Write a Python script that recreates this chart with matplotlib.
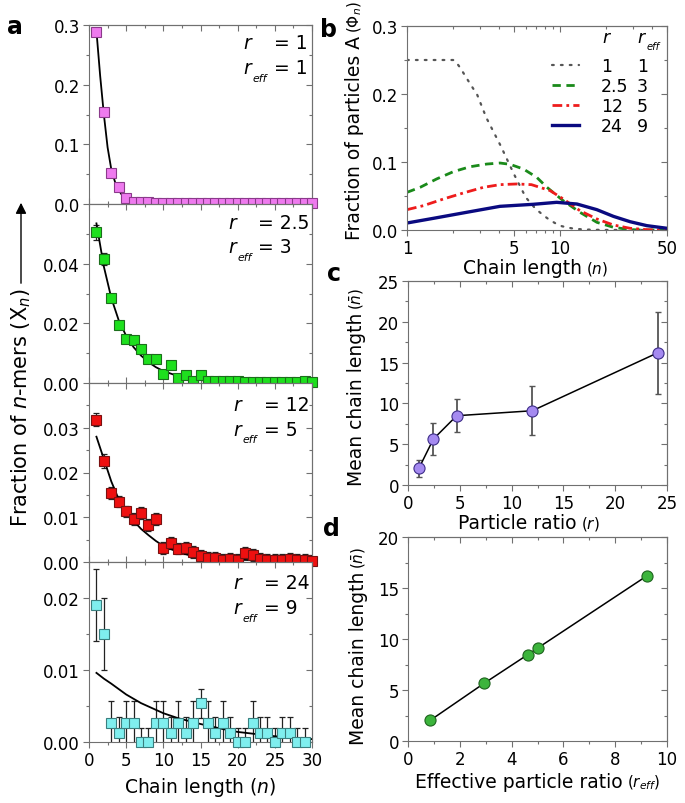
import matplotlib
matplotlib.use('Agg')
import matplotlib.pyplot as plt
from matplotlib.ticker import FixedLocator, FixedFormatter, NullFormatter
from matplotlib.patches import FancyArrowPatch

plt.rcParams['font.family'] = ['DejaVu Sans']
plt.rcParams['mathtext.fontset'] = 'dejavusans'

# ---------------- data: panel a ----------------
n_a = list(range(1, 31))
x_r1 = [0.289, 0.155, 0.052, 0.028, 0.0106, 0.004, 0.0028, 0.004] + [0.001] * 22
e_r1 = [0.002] * 30
fit_r1_n = [1, 1.5, 2, 2.5, 3, 3.5, 4, 4.5, 5, 6, 7, 8, 10, 30]
fit_r1_v = [0.29, 0.215, 0.15, 0.095, 0.058, 0.037, 0.023, 0.014, 0.008, 0.003, 0.001, 0.0004, 0.0001, 0.0]

x_r25 = [0.0506, 0.0417, 0.0285, 0.0196, 0.0146, 0.0143, 0.0115, 0.0082, 0.0079, 0.0031,
         0.0059, 0.0017, 0.0026, 0.0006, 0.0026, 0.0006, 0.0006, 0.0008, 0.0008, 0.0008,
         0.0005, 0.0005, 0.0005, 0.0005, 0.0005, 0.0005, 0.0005, 0.0005, 0.0008, 0.0005]
e_r25 = [0.0025, 0.002, 0.0015, 0.0013, 0.0012, 0.0012, 0.0012, 0.0012, 0.0012, 0.001,
         0.001, 0.001, 0.001, 0.0009, 0.001, 0.0009, 0.0009, 0.0009, 0.0009, 0.0009,
         0.0009, 0.0009, 0.0009, 0.0009, 0.0009, 0.0009, 0.0009, 0.0009, 0.0009, 0.0009]
fit_r25_n = [1, 2, 3, 4, 5, 6, 7, 8, 9, 10, 12, 14, 16, 20, 25, 30]
fit_r25_v = [0.0535, 0.039, 0.0285, 0.021, 0.0158, 0.012, 0.0092, 0.007, 0.0053, 0.004,
             0.0023, 0.0013, 0.0007, 0.0002, 0.0001, 0.0]

x_r12 = [0.0318, 0.0226, 0.0154, 0.0135, 0.0113, 0.0096, 0.011, 0.0083, 0.0096, 0.0031,
         0.0042, 0.003, 0.0031, 0.0022, 0.0014, 0.001, 0.001, 0.0004, 0.0007, 0.0004,
         0.0021, 0.0015, 0.0007, 0.0004, 0.0004, 0.0004, 0.0007, 0.0005, 0.0004, 0.0003]
e_r12 = [0.0015] * 2 + [0.0013] * 28
fit_r12_n = [1, 2, 3, 4, 5, 6, 7, 8, 9, 10, 12, 14, 16, 20, 25, 30]
fit_r12_v = [0.028, 0.023, 0.018, 0.014, 0.0112, 0.0092, 0.0074, 0.006, 0.0047, 0.0036,
             0.0022, 0.0013, 0.0009, 0.0005, 0.0003, 0.0002]

n_r24 = list(range(1, 30))
x_r24 = [0.019, 0.015, 0.0027, 0.0013, 0.0027, 0.0027, 0.0, 0.0, 0.0027, 0.0027,
         0.0013, 0.0027, 0.0013, 0.0027, 0.0054, 0.0027, 0.0013, 0.0027, 0.0013, 0.0,
         0.0, 0.0027, 0.0013, 0.0013, 0.0, 0.0013, 0.0013, 0.0, 0.0]
e_r24 = [0.005, 0.005, 0.003, 0.0022, 0.003, 0.003, 0.002, 0.002, 0.003, 0.003,
         0.0022, 0.003, 0.0022, 0.003, 0.002, 0.003, 0.0022, 0.003, 0.0022, 0.002,
         0.002, 0.003, 0.0022, 0.0022, 0.002, 0.0022, 0.0022, 0.002, 0.002]
fit_r24_n = [1, 2, 3, 5, 7, 10, 12, 15, 18, 20, 25, 30]
fit_r24_v = [0.0096, 0.0088, 0.0081, 0.0066, 0.0054, 0.004, 0.0033, 0.0025, 0.0018, 0.0014, 0.0008, 0.0004]

# ---------------- data: panel b ----------------
b_r1_n = [1, 2, 2.06, 2.22, 2.52, 2.88, 3.3, 4.09, 5.03, 5.97, 6.87, 7.6, 8.4, 9.3, 10.3, 11.9, 13.5, 16, 20, 50]
b_r1_v = [0.25, 0.25, 0.249, 0.239, 0.219, 0.1985, 0.165, 0.124, 0.081, 0.048, 0.032, 0.0235, 0.016, 0.010, 0.0055, 0.0025, 0.0012, 0.0004, 0.0001, 0.0]
b_r25_n = [1, 1.22, 1.56, 2.01, 2.58, 3.32, 4.05, 4.71, 5.76, 7.04, 8.19, 10.5, 13.5, 17.4, 22.3, 28.7, 35, 50]
b_r25_v = [0.0554, 0.0628, 0.075, 0.0858, 0.093, 0.097, 0.0985, 0.0966, 0.0897, 0.0775, 0.063, 0.043, 0.026, 0.0113, 0.004, 0.0005, 0.0, 0.0]
b_r12_n = [1, 1.28, 1.73, 2.33, 3.15, 4.05, 5.21, 6.5, 8.6, 10.5, 13.5, 17.4, 22.3, 28.7, 36.9, 42, 50]
b_r12_v = [0.0299, 0.0358, 0.0456, 0.0544, 0.0627, 0.0667, 0.0677, 0.0667, 0.058, 0.0456, 0.0284, 0.0162, 0.0074, 0.0025, 0.0005, 0.0, 0.0]
b_r24_n = [1, 1.49, 2.45, 4.05, 6.7, 9.5, 12.9, 17.4, 22.3, 28.7, 36.9, 50]
b_r24_v = [0.0103, 0.0172, 0.026, 0.0348, 0.0378, 0.0407, 0.0382, 0.0299, 0.0201, 0.0122, 0.0064, 0.0025]
legend_r = ['1', '2.5', '12', '24']
legend_reff = ['1', '3', '5', '9']

# ---------------- data: panel c / d ----------------
c_r = [1.05, 2.45, 4.7, 12.0, 24.1]
c_mean = [2.04, 5.63, 8.49, 9.1, 16.2]
c_err = [1.0, 2.0, 2.0, 3.0, 5.0]
d_reff = [0.86, 2.93, 4.62, 5.03, 9.23]
d_mean = [2.03, 5.64, 8.46, 9.15, 16.2]

# ---------------- figure ----------------
W, H = 685, 804
fig = plt.figure(figsize=(W / 100, H / 100), dpi=100)

def px_axes(left, top, right, bottom):
    return fig.add_axes([left / W, 1 - bottom / H, (right - left) / W, (bottom - top) / H])

SP = '#707070'
TICK = 12
LAB = 13.5
PAREN = 11

def style(ax, xmaj, xmin, ymaj, ymin, bottom_dir='out'):
    for s in ax.spines.values():
        s.set_color(SP)
    ax.tick_params(which='both', color=SP, labelcolor='black', labelsize=TICK, pad=2)
    ax.tick_params(axis='y', which='both', direction='out')
    ax.tick_params(axis='x', which='both', direction=bottom_dir)
    ax.tick_params(which='major', length=4.5, width=0.8)
    ax.tick_params(which='minor', length=2.5, width=0.8)
    sx = ax.secondary_xaxis('top')
    sy = ax.secondary_yaxis('right')
    sx.xaxis.set_major_locator(FixedLocator(xmaj))
    sx.xaxis.set_minor_locator(FixedLocator(xmin))
    sy.yaxis.set_major_locator(FixedLocator(ymaj))
    sy.yaxis.set_minor_locator(FixedLocator(ymin))
    for s2 in (sx, sy):
        for sp in s2.spines.values():
            sp.set_color(SP)
        s2.tick_params(which='both', direction='in', color=SP, labeltop=False, labelright=False)
        s2.tick_params(which='major', length=4.5, width=0.8)
        s2.tick_params(which='minor', length=2.5, width=0.8)
    sx.xaxis.set_minor_formatter(NullFormatter())
    sy.yaxis.set_minor_formatter(NullFormatter())

def reff_text(ax, x, y, size, va='baseline'):
    t = ax.text(x, y, '$r$', transform=ax.transAxes, fontsize=size, va=va, ha='left')
    ax.annotate('eff', xy=(1, 0), xycoords=t, xytext=(-0.5, -size * 0.28),
                textcoords='offset points', fontsize=size * 0.58, style='italic',
                ha='left', va='bottom')
    return t

def xlabel_parts(ax, x0, y, main, paren):
    t = ax.text(x0, y, main, transform=ax.transAxes, fontsize=LAB, ha='left', va='center')
    ax.annotate(paren, xy=(1, 0.5), xycoords=t, xytext=(3, 0), textcoords='offset points',
                fontsize=PAREN, ha='left', va='center')

def ylabel_parts(ax, x, y0, main, paren):
    t = ax.text(x, y0, main, transform=ax.transAxes, fontsize=LAB, ha='center', va='bottom',
                rotation=90)
    ax.annotate(paren, xy=(0.5, 1), xycoords=t, xytext=(0, 2), textcoords='offset points',
                fontsize=PAREN, ha='center', va='bottom', rotation=90)

# ---------------- panel a ----------------
a_tops = [26, 205, 384, 563]
a_bots = [205, 384, 563, 743]
a_specs = [
    dict(n=n_a, v=x_r1, e=e_r1, fn=fit_r1_n, fv=fit_r1_v, ylim=0.3, ymaj=[0, 0.1, 0.2, 0.3],
         ylab=['0.0', '0.1', '0.2', '0.3'], ymin=[0.05, 0.15, 0.25], fc='#EE7AEE', ec='#8B3A8B',
         rv='1', reffv='1', xr=0.69, xeq=0.83, yr=0.87, yreff=0.73),
    dict(n=n_a, v=x_r25, e=e_r25, fn=fit_r25_n, fv=fit_r25_v, ylim=0.06, ymaj=[0, 0.02, 0.04],
         ylab=['0.00', '0.02', '0.04'], ymin=[0.01, 0.03, 0.05], fc='#1EE01E', ec='#1C6E1C',
         rv='2.5', reffv='3', xr=0.622, xeq=0.758, yr=0.865, yreff=0.73),
    dict(n=n_a, v=x_r12, e=e_r12, fn=fit_r12_n, fv=fit_r12_v, ylim=0.04, ymaj=[0, 0.01, 0.02, 0.03],
         ylab=['0.00', '0.01', '0.02', '0.03'], ymin=[0.005, 0.015, 0.025, 0.035], fc='#EE1010', ec='#7A1010',
         rv='12', reffv='5', xr=0.645, xeq=0.783, yr=0.85, yreff=0.71),
    dict(n=n_r24, v=x_r24, e=e_r24, fn=fit_r24_n, fv=fit_r24_v, ylim=0.025, ymaj=[0, 0.01, 0.02],
         ylab=['0.00', '0.01', '0.02'], ymin=[0.005, 0.015], fc='#7FEFEF', ec='#3A7F7F',
         rv='24', reffv='9', xr=0.645, xeq=0.783, yr=0.855, yreff=0.715),
]
xmaj_a = [0, 5, 10, 15, 20, 25, 30]
xmin_a = [2.5, 7.5, 12.5, 17.5, 22.5, 27.5]
for i, sp in enumerate(a_specs):
    ax = px_axes(89, a_tops[i], 312, a_bots[i])
    ax.set_xlim(0, 30)
    ax.set_ylim(0, sp['ylim'])
    ax.xaxis.set_major_locator(FixedLocator(xmaj_a))
    ax.xaxis.set_minor_locator(FixedLocator(xmin_a))
    ax.yaxis.set_major_locator(FixedLocator(sp['ymaj']))
    ax.yaxis.set_major_formatter(FixedFormatter(sp['ylab']))
    ax.yaxis.set_minor_locator(FixedLocator(sp['ymin']))
    style(ax, xmaj_a, xmin_a, sp['ymaj'], sp['ymin'], bottom_dir='out' if i == 3 else 'in')
    if i < 3:
        ax.tick_params(axis='x', labelbottom=False)
    else:
        ax.set_xlabel('Chain length ($n$)', fontsize=LAB, va='center')
        ax.xaxis.set_label_coords(0.5, -0.245)
    ax.errorbar(sp['n'], sp['v'], yerr=sp['e'], fmt='none', ecolor='#222222',
                elinewidth=0.9, capsize=2.2, capthick=0.9, zorder=2)
    ax.plot(sp['fn'], sp['fv'], color='black', lw=1.3, zorder=3)
    ax.plot(sp['n'], sp['v'], 's', ms=6.5, mfc=sp['fc'], mec=sp['ec'], mew=0.8,
            zorder=4, clip_on=False)
    ax.text(sp['xr'], sp['yr'], '$r$', transform=ax.transAxes, fontsize=LAB, va='baseline')
    ax.text(sp['xeq'], sp['yr'], '= ' + sp['rv'], transform=ax.transAxes, fontsize=LAB, va='baseline')
    reff_text(ax, sp['xr'], sp['yreff'], LAB)
    ax.text(sp['xeq'], sp['yreff'], '= ' + sp['reffv'], transform=ax.transAxes, fontsize=LAB, va='baseline')

fig.text(21 / W, 1 - 408 / H, 'Fraction of $n$-mers (X$_n$)', rotation=90, fontsize=15,
         ha='center', va='center')
fig.add_artist(FancyArrowPatch((21 / W, 1 - 287 / H), (21 / W, 1 - 201 / H),
                               transform=fig.transFigure, arrowstyle='-|>',
                               mutation_scale=16, color='black', lw=1))

# ---------------- panel b ----------------
axb = px_axes(407, 27, 667, 231)
axb.set_xscale('log')
axb.set_xlim(1, 50)
axb.set_ylim(0, 0.3)
bxmaj = [1, 5, 10, 50]
bxmin = [2, 3, 4, 6, 7, 8, 9, 20, 30, 40]
axb.xaxis.set_major_locator(FixedLocator(bxmaj))
axb.xaxis.set_major_formatter(FixedFormatter(['1', '5', '10', '50']))
axb.xaxis.set_minor_locator(FixedLocator(bxmin))
axb.xaxis.set_minor_formatter(NullFormatter())
axb.yaxis.set_major_locator(FixedLocator([0, 0.1, 0.2, 0.3]))
axb.yaxis.set_major_formatter(FixedFormatter(['0.0', '0.1', '0.2', '0.3']))
axb.yaxis.set_minor_locator(FixedLocator([0.05, 0.15, 0.25]))
style(axb, bxmaj, bxmin, [0, 0.1, 0.2, 0.3], [0.05, 0.15, 0.25])
l1, = axb.plot(b_r1_n, b_r1_v, color='#555555', lw=1.6, ls=(0, (0.8, 3.2)), dash_capstyle='round')
l2, = axb.plot(b_r25_n, b_r25_v, color='#1A8A1A', lw=2.0, ls=(0, (3, 2)))
l3, = axb.plot(b_r12_n, b_r12_v, color='#EE1C1C', lw=2.0, ls=(0, (3.5, 1.5, 1, 1.5)))
l4, = axb.plot(b_r24_n, b_r24_v, color='#0A0A80', lw=2.4)
xlabel_parts(axb, 0.215, -0.185, 'Chain length', '($n$)')
ylabel_parts(axb, -0.2, -0.044, 'Fraction of particles A', r'($\Phi_n$)')
leg = axb.legend([l1, l2, l3, l4], legend_r, loc='upper left', bbox_to_anchor=(0.558, 0.85),
                 frameon=False, fontsize=TICK + 0.5, handlelength=1.55, handletextpad=1.25,
                 labelspacing=0.12, borderpad=0, borderaxespad=0)
axb.text(0.75, 0.945, '$r$', transform=axb.transAxes, fontsize=TICK + 0.5, va='center', ha='left')
reff_text(axb, 0.885, 0.945, TICK + 0.5, va='center')

# ---------------- panel c ----------------
axc = px_axes(408, 282, 667, 486)
axc.set_xlim(0, 25)
axc.set_ylim(0, 25)
cxmaj = [0, 5, 10, 15, 20, 25]
cxmin = [2.5, 7.5, 12.5, 17.5, 22.5]
axc.xaxis.set_major_locator(FixedLocator(cxmaj))
axc.xaxis.set_minor_locator(FixedLocator(cxmin))
axc.yaxis.set_major_locator(FixedLocator(cxmaj))
axc.yaxis.set_minor_locator(FixedLocator(cxmin))
style(axc, cxmaj, cxmin, cxmaj, cxmin)
axc.errorbar(c_r, c_mean, yerr=c_err, fmt='none', ecolor='#555555', elinewidth=1.3,
             capsize=2.5, capthick=1.0, zorder=2)
axc.plot(c_r, c_mean, '-', color='black', lw=1.1, zorder=3)
axc.plot(c_r, c_mean, 'o', ms=8, mfc='#A58AF0', mec='#3E2E8A', mew=0.8, zorder=4, clip_on=False)
xlabel_parts(axc, 0.193, -0.185, 'Particle ratio', '($r$)')
ylabel_parts(axc, -0.197, 0.0, 'Mean chain length', r'($\bar{n}$)')

# ---------------- panel d ----------------
axd = px_axes(408, 538, 667, 742)
axd.set_xlim(0, 10)
axd.set_ylim(0, 20)
dxmaj = [0, 2, 4, 6, 8, 10]
dxmin = [1, 3, 5, 7, 9]
dymaj = [0, 5, 10, 15, 20]
dymin = [2.5, 7.5, 12.5, 17.5]
axd.xaxis.set_major_locator(FixedLocator(dxmaj))
axd.xaxis.set_minor_locator(FixedLocator(dxmin))
axd.yaxis.set_major_locator(FixedLocator(dymaj))
axd.yaxis.set_minor_locator(FixedLocator(dymin))
style(axd, dxmaj, dxmin, dymaj, dymin)
axd.plot(d_reff, d_mean, '-', color='black', lw=1.1, zorder=3)
axd.plot(d_reff, d_mean, 'o', ms=8, mfc='#3CB43C', mec='#1E641E', mew=0.8, zorder=4)
xlabel_parts(axd, 0.027, -0.20, 'Effective particle ratio', '($r_{eff}$)')
ylabel_parts(axd, -0.19, -0.015, 'Mean chain length', r'($\bar{n}$)')

# ---------------- panel letters ----------------
for lab, (px, py) in zip(['a', 'b', 'c', 'd'], [(15, 27), (329, 30), (334, 274), (331, 529)]):
    fig.text(px / W, 1 - py / H, lab, fontsize=17, fontweight='bold', ha='center', va='center')

# r_eff column of legend aligned with legend labels
fig.canvas.draw()
inv = axb.transAxes.inverted()
for t, val in zip(leg.get_texts(), legend_reff):
    bb = t.get_window_extent()
    yc = inv.transform(((bb.x0 + bb.x1) / 2, (bb.y0 + bb.y1) / 2))[1]
    axb.text(0.885, yc, val, transform=axb.transAxes, fontsize=TICK + 0.5, va='center', ha='left')

fig.savefig('out.png', dpi=100)
